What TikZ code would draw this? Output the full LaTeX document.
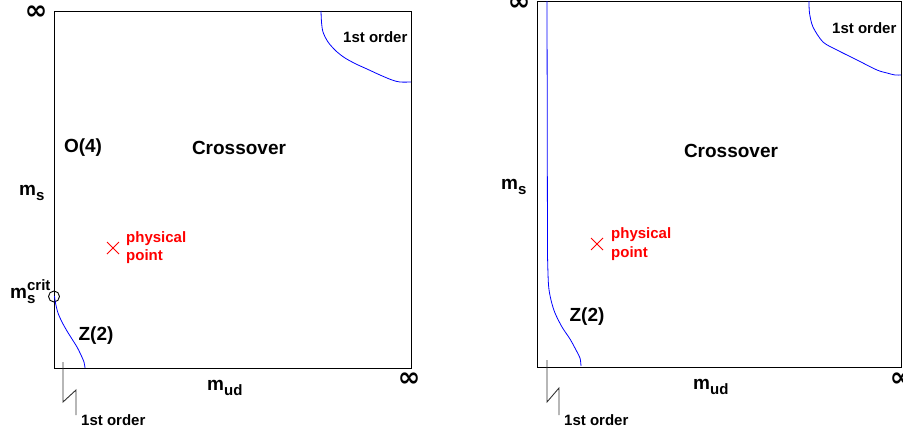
\documentclass[tikz,border=0pt]{standalone}
\usepackage{fontspec}
\setmainfont{Liberation Sans}
\newfontfamily\djv{DejaVu Sans}
\usetikzlibrary{calc}
\begin{document}
\begin{tikzpicture}[x=1pt,y=-1pt,
  big/.style={font=\fontsize{19}{22}\selectfont\bfseries, inner sep=0pt},
  inf/.style={font=\fontsize{27}{30}\selectfont\djv\bfseries, inner sep=0pt},
  small/.style={font=\fontsize{15}{18}\selectfont\bfseries, inner sep=0pt},
  redlbl/.style={small, text=red},
  frame/.style={draw=black, line width=1pt},
  phase/.style={draw=blue, line width=0.8pt},
  zig/.style={draw=black!80, line width=0.9pt},
  cross/.style={draw=red, line width=0.9pt}]
\useasboundingbox (0,0) rectangle (903,434);
\newcommand{\subs}[1]{\raisebox{-0.3em}{\fontsize{15}{18}\selectfont #1}}
% ---------------- left panel ----------------
\coordinate (L1) at (54,11);
\coordinate (L2) at (411,368);
\draw[frame] (L1) rectangle (L2);
\node[inf] (linfA) at (36,13) {∞};
\node[inf] (linfB) at (409,380) {∞};
\node[big, anchor=base west] (lms) at (19,195) {m\subs{s}};
\node[big, anchor=base west] (lcrit) at (10,298) {m\rlap{\raisebox{0.42em}{\fontsize{15}{18}\selectfont crit}}\subs{s}};
\node[big] (lo4) at (83,148) {O(4)};
\node[big] (lcross) at (239,148) {Crossover};
\node[big] (lz2) at (96,336) {Z(2)};
\node[big, anchor=base west] (lmud) at (207,390) {m\subs{ud}};
\node[small, anchor=base west] (lfirstA) at (343,42) {1st order};
\node[small, anchor=base west] (lfirstB) at (81,425) {1st order};
\node[redlbl, anchor=base west] (lphys) at (126,242) {physical};
\node[redlbl, anchor=base west] (lpoint) at (126,260) {point};
\coordinate (lx) at (113,248);
\draw[cross] ($(lx)+(-6,-6)$) -- ($(lx)+(6,6)$) ($(lx)+(-6,6)$) -- ($(lx)+(6,-6)$);
\node[draw=black, circle, line width=0.9pt, minimum size=11pt, inner sep=0pt] (lcirc) at (54,296.5) {};
\draw[phase] plot[smooth] coordinates {(54.5,296) (55.5,303) (58,313) (62,322) (67,331) (72,339) (77,347) (81,355) (84,362) (85,368)};
\draw[phase] plot[smooth] coordinates {(321,11) (321.5,22) (323,32) (328,42) (336,51) (345,58) (356,64) (367,69) (380,75) (392,80) (400,82) (411,82)};
\draw[zig] (63,362) -- (63,402) -- (76,390) -- (76,415);
% ---------------- right panel ----------------
\coordinate (R1) at (537,1);
\coordinate (R2) at (901,367);
\draw[frame] (R1) rectangle (R2);
\node[inf] (rinfA) at (519,4) {∞};
\node[inf] (rinfB) at (901,380) {∞};
\node[big, anchor=base west] (rms) at (501,189) {m\subs{s}};
\node[big] (rcross) at (731,151) {Crossover};
\node[big] (rz2) at (587,317) {Z(2)};
\node[big, anchor=base west] (rmud) at (693,389) {m\subs{ud}};
\node[small, anchor=base west] (rfirstA) at (832,33) {1st order};
\node[small, anchor=base west] (rfirstB) at (564,425) {1st order};
\node[redlbl, anchor=base west] (rphys) at (611,238) {physical};
\node[redlbl, anchor=base west] (rpoint) at (611,257) {point};
\coordinate (rx) at (597,244);
\draw[cross] ($(rx)+(-6,-6)$) -- ($(rx)+(6,6)$) ($(rx)+(-6,6)$) -- ($(rx)+(6,-6)$);
\draw[phase] (547,1) -- (547.5,255) plot[smooth] coordinates {(547.5,255) (548.5,285) (551,300) (555,313) (562,327) (570,339) (576,350) (580,358) (581,366)};
\draw[phase] plot[smooth] coordinates {(809,1) (809.5,13) (813,27) (823,42) (837,50) (857,60) (877,70) (887,73) (895,75) (901,75)};
\draw[zig] (547,360) -- (547,402) -- (559,388) -- (559,415);
\end{tikzpicture}
\end{document}
